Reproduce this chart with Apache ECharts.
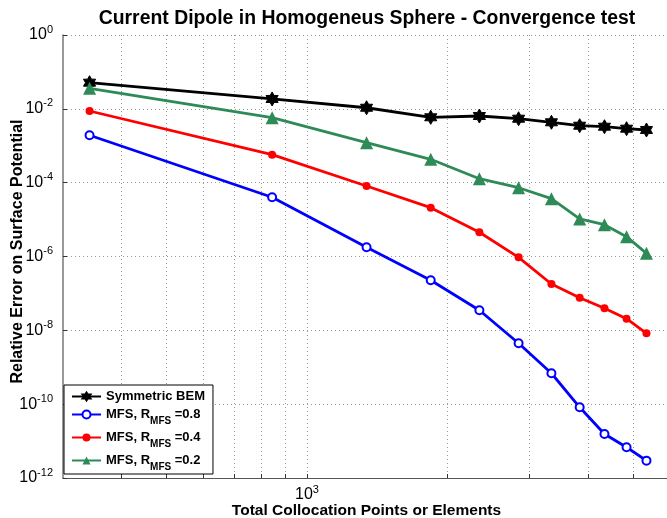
<!DOCTYPE html>
<html>
<head>
<meta charset="utf-8">
<script src="https://cdn.jsdelivr.net/npm/echarts@6/dist/echarts.min.js"></script>
<style>html,body{margin:0;padding:0;background:#fff}#c{width:667px;height:518px}</style>
</head>
<body>
<div id="c"></div>
<script>
// ---- data ----
const xValues = [342, 842, 1342, 1842, 2342, 2842, 3342, 3842, 4342, 4842, 5342];
const bem   = [0.0511, 0.0185, 0.0107, 0.0059, 0.0064, 0.0054, 0.00432, 0.00349, 0.00328, 0.0029, 0.00267];
const mfs08 = [1.92e-3, 4.02e-5, 1.78e-6, 2.28e-7, 3.49e-8, 4.47e-9, 6.87e-10, 8.24e-11, 1.56e-11, 6.8e-12, 2.95e-12];
const mfs04 = [8.74e-3, 5.73e-4, 8.13e-5, 2.1e-5, 4.53e-6, 9.5e-7, 1.80e-7, 7.67e-8, 3.96e-8, 2.07e-8, 8.3e-9];
const mfs02 = [0.036, 5.75e-3, 1.21e-3, 4.3e-4, 1.28e-4, 7.3e-5, 3.68e-5, 1.04e-5, 7.28e-6, 3.44e-6, 1.22e-6];
const seriesNames = ['Symmetric BEM', 'MFS, R_MFS =0.8', 'MFS, R_MFS =0.4', 'MFS, R_MFS =0.2'];
const xTickValues = [400, 500, 600, 700, 800, 900, 1000, 2000, 3000, 4000, 5000];
const xLabelValues = [1000];
const yTickValues = [1, 1e-2, 1e-4, 1e-6, 1e-8, 1e-10, 1e-12];

function pairs(ys) { return xValues.map((x, i) => [x, ys[i]]); }
function expLabel(v) {
  const e = Math.round(Math.log10(v));
  return '{b|10}{s|' + e + '}';
}
const hexagram = 'path://M50,0L64.43,25L93.3,25L78.87,50L93.3,75L64.43,75L50,100L35.57,75L6.7,75L21.13,50L6.7,25L35.57,25Z';
const FONT = 'Liberation Sans, Arial, sans-serif';
const supRich = {
  b: { fontSize: 16, fontFamily: FONT, color: '#000', lineHeight: 22 },
  s: { fontSize: 11, fontFamily: FONT, color: '#000', lineHeight: 12, verticalAlign: 'top' }
};

const chart = echarts.init(document.getElementById('c'));
chart.setOption({
  animation: false,
  backgroundColor: '#fff',
  title: {
    text: 'Current Dipole in Homogeneus Sphere - Convergence test',
    left: 362, textAlign: 'center', top: 4,
    textStyle: { fontFamily: FONT, fontWeight: 'bold', fontSize: 19.4, color: '#000' }
  },
  grid: { left: 63, top: 35, bottom: 40, right: -3, containLabel: false, outerBoundsMode: 'none' },
  xAxis: {
    type: 'log', logBase: 10, min: 300, max: 6000,
    name: 'Total Collocation Points or Elements',
    nameLocation: 'middle', nameGap: 25, nameMoveOverlap: false,
    nameTextStyle: { fontFamily: FONT, fontWeight: 'bold', fontSize: 15.5, color: '#000' },
    axisLine: { show: true, lineStyle: { color: '#555', width: 1.2 } },
    axisTick: { show: true, inside: true, length: 4, customValues: xTickValues, lineStyle: { color: '#333' } },
    axisLabel: { customValues: xLabelValues, margin: 6, formatter: expLabel, rich: supRich },
    splitLine: { show: true, lineStyle: { color: '#999', type: [1, 3], width: 1 } },
    minorTick: { show: false }
  },
  yAxis: {
    type: 'log', logBase: 10, min: 1e-12, max: 1,
    name: 'Relative Error on Surface Potential',
    nameLocation: 'middle', nameGap: 37, nameRotate: 90, nameMoveOverlap: false,
    nameTextStyle: { fontFamily: FONT, fontWeight: 'bold', fontSize: 16, color: '#000', padding: [0, 0, 0, 10] },
    axisLine: { show: true, lineStyle: { color: '#777', width: 1.5 } },
    axisTick: { show: true, inside: true, length: 4, customValues: yTickValues, lineStyle: { color: '#333' } },
    axisLabel: { customValues: yTickValues, margin: 10, formatter: expLabel, rich: supRich },
    splitLine: { show: true, lineStyle: { color: '#999', type: [1, 3], width: 1 } }
  },
  legend: {
    data: seriesNames,
    orient: 'vertical',
    left: 64, top: 385,
    padding: [5, 8, 2, 7],
    itemGap: 5,
    itemWidth: 29, itemHeight: 10,
    backgroundColor: '#fff',
    borderColor: '#000', borderWidth: 1, borderRadius: 0,
    formatter: function (name) {
      if (name.indexOf('R_MFS') < 0) return '{a|' + name + '}';
      const parts = name.split('R_MFS');
      return '{m|' + parts[0] + 'R}{sub|MFS}{m|' + parts[1] + '}';
    },
    textStyle: {
      fontFamily: FONT, fontWeight: 'bold', fontSize: 13, color: '#000',
      rich: {
        a: { fontFamily: FONT, fontWeight: 'bold', fontSize: 13, color: '#000', lineHeight: 12 },
        m: { fontFamily: FONT, fontWeight: 'bold', fontSize: 13, color: '#000', lineHeight: 23 },
        sub: { fontFamily: FONT, fontWeight: 'bold', fontSize: 10, color: '#000', lineHeight: 10, verticalAlign: 'bottom' }
      }
    }
  },
  series: [
    {
      name: seriesNames[0], type: 'line', data: pairs(bem),
      symbol: hexagram, symbolSize: 14, symbolKeepAspect: true,
      lineStyle: { color: '#000', width: 2.8 },
      itemStyle: { color: '#000', borderColor: '#000', borderWidth: 1 }
    },
    {
      name: seriesNames[1], type: 'line', data: pairs(mfs08),
      symbol: 'emptyCircle', symbolSize: 8,
      lineStyle: { color: '#0000ff', width: 2.8 },
      itemStyle: { color: '#0000ff', borderColor: '#0000ff', borderWidth: 3 }
    },
    {
      name: seriesNames[2], type: 'line', data: pairs(mfs04),
      symbol: 'circle', symbolSize: 8,
      lineStyle: { color: '#ff0000', width: 2.8 },
      itemStyle: { color: '#ff0000' }
    },
    {
      name: seriesNames[3], type: 'line', data: pairs(mfs02),
      symbol: 'triangle', symbolSize: 13,
      lineStyle: { color: '#2e8b57', width: 2.8 },
      itemStyle: { color: '#2e8b57' }
    }
  ]
});
</script>
</body>
</html>
